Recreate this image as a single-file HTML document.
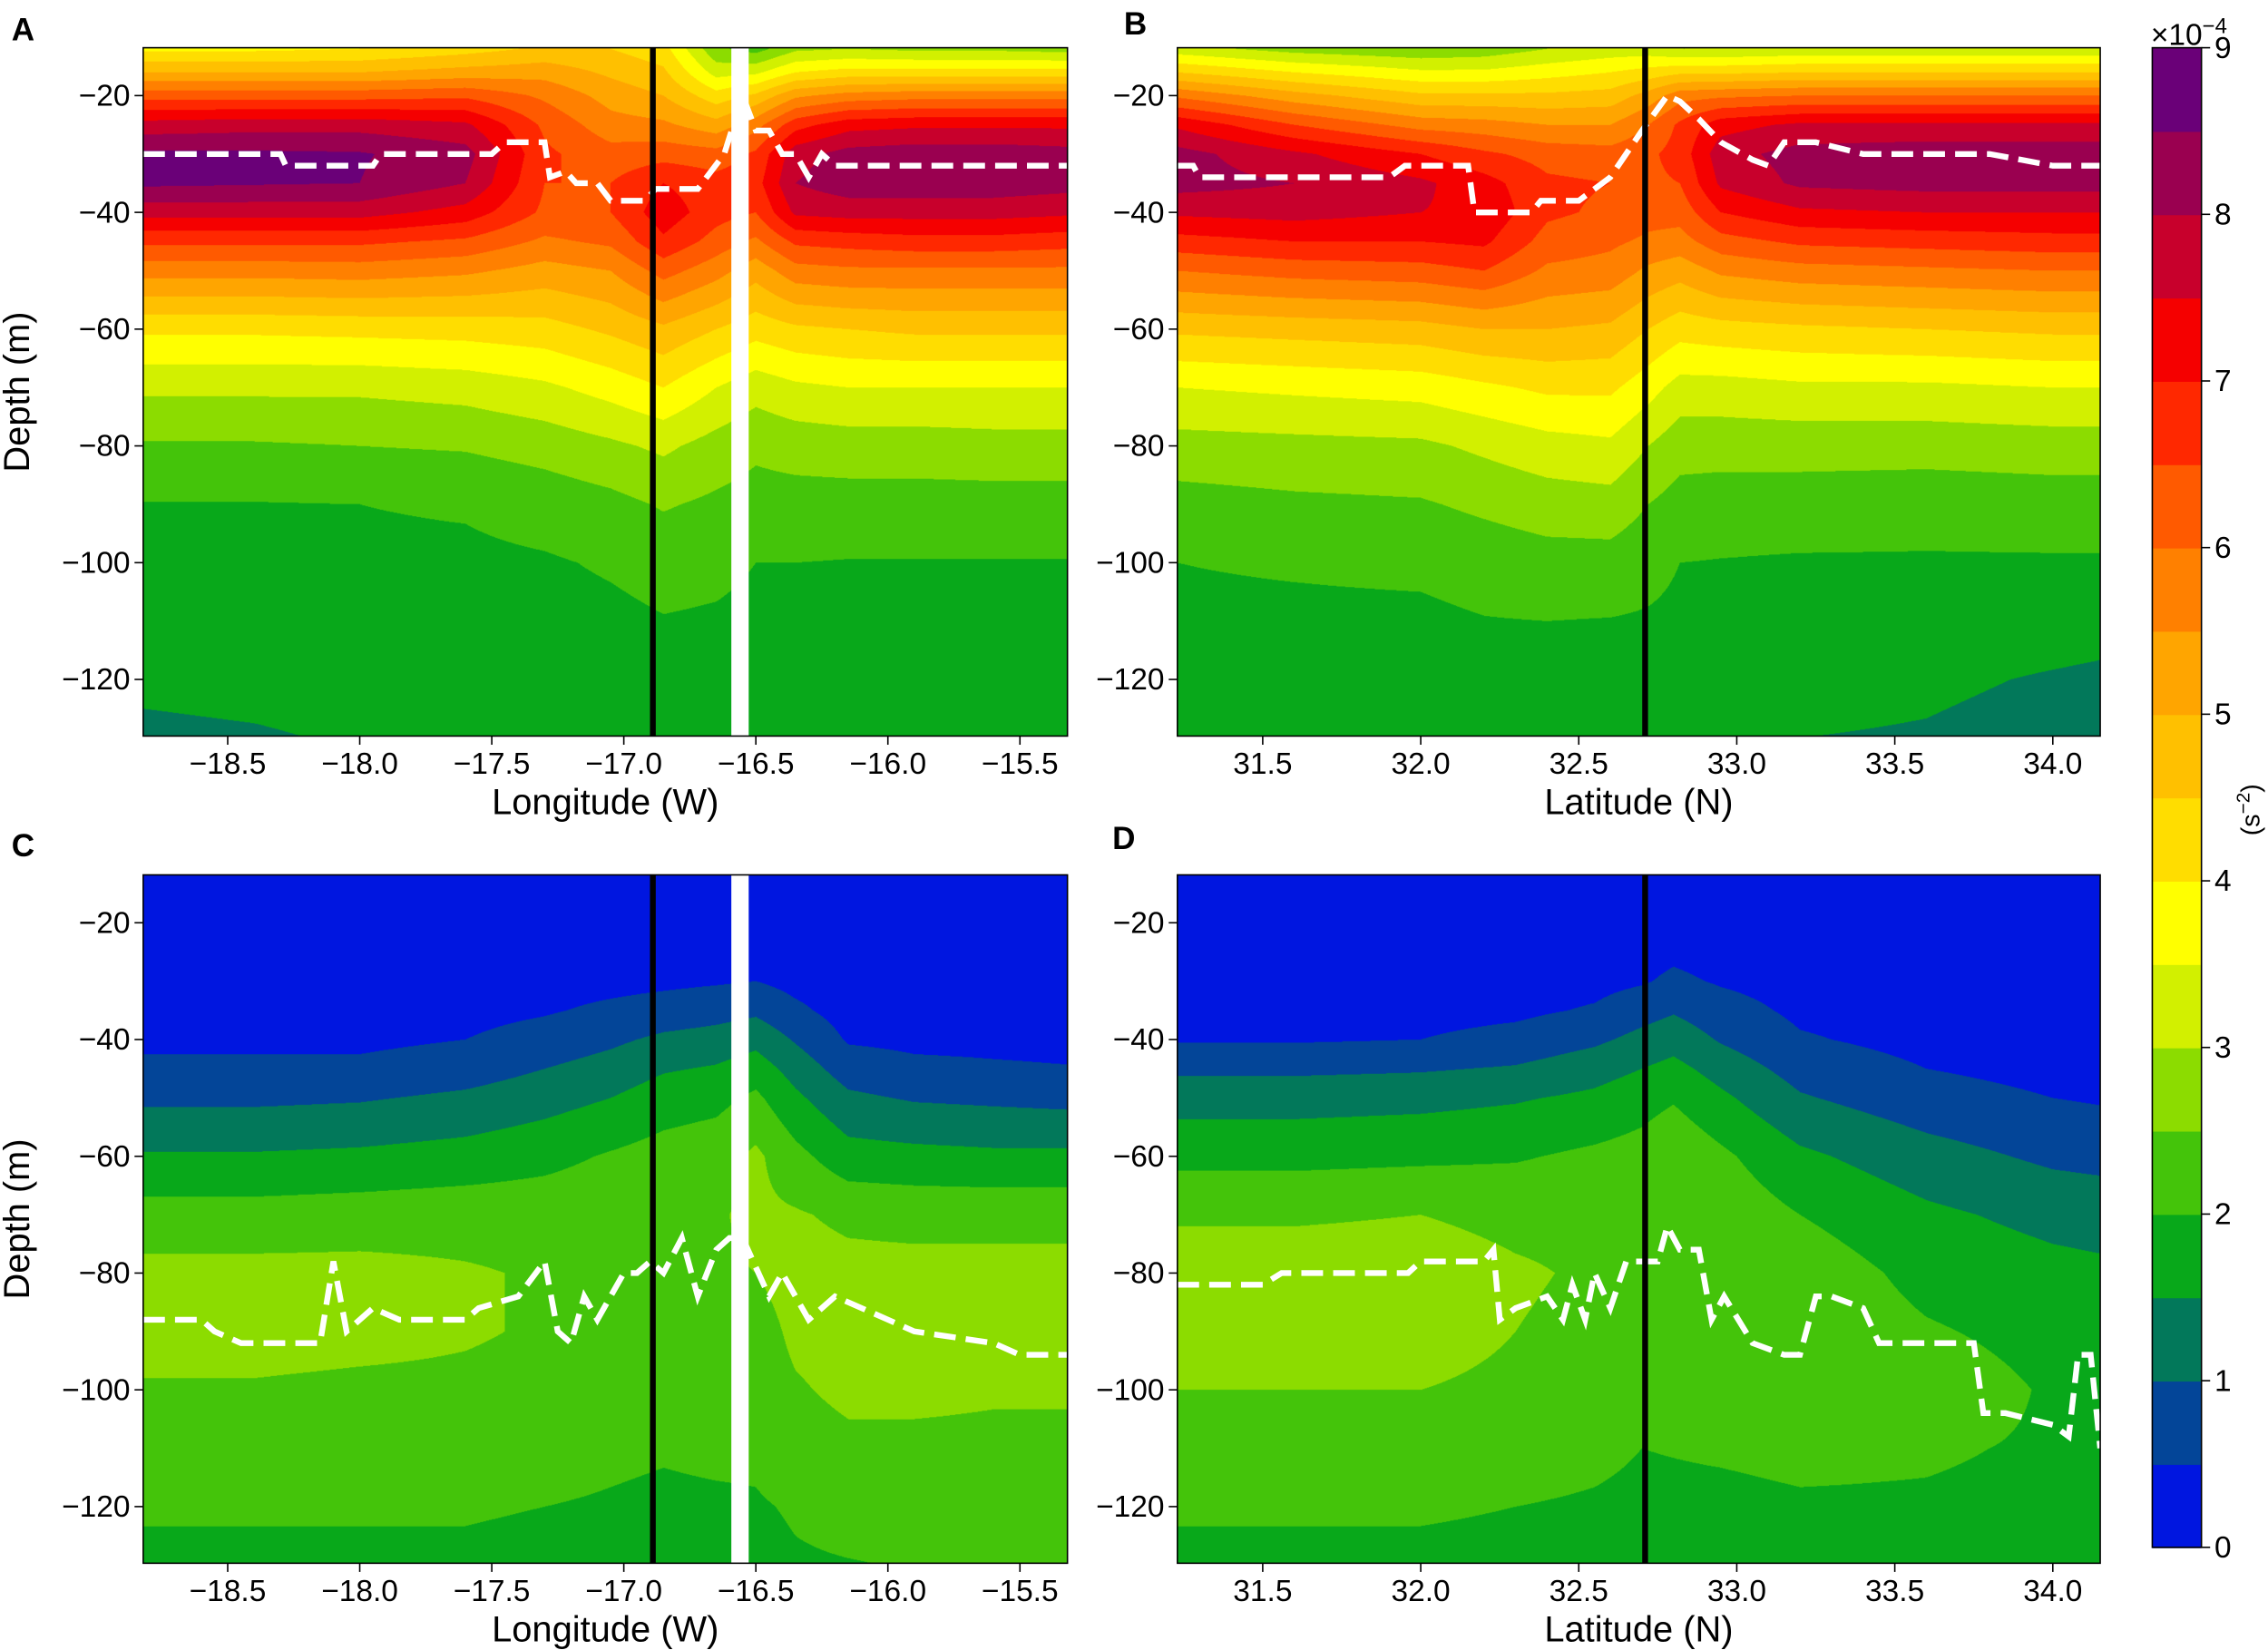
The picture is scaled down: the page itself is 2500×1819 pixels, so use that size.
<!DOCTYPE html>
<html><head><meta charset="utf-8">
<style>
html,body{margin:0;padding:0;background:#fff;}
#root{position:relative;width:1568px;height:1141px;transform:scale(1.59439,1.59421);transform-origin:0 0;font-family:"Liberation Sans",sans-serif;}
canvas{position:absolute;}
svg{position:absolute;left:0;top:0;}
</style></head>
<body>
<div id="root">
<canvas id="cA"></canvas>
<canvas id="cB"></canvas>
<canvas id="cC"></canvas>
<canvas id="cD"></canvas>
<svg id="svg" width="1568" height="1141" viewBox="0 0 1568 1141"></svg>
</div>
<script>
// ---- data ----
const levelColors = ["#0016e0","#034598","#02785a","#08a81a","#44c40a","#8cdc00","#d2f000","#ffff00","#ffdd00","#ffc000","#ffa500","#ff8000","#ff5a00","#ff2800","#f50000","#c8002c","#9a0050","#6a0078"];
const cbTicks = [0,1,2,3,4,5,6,7,8,9];
const depths = [-12,-16,-20,-25,-30,-35,-40,-45,-50,-60,-70,-80,-90,-100,-110,-120,-130];
const lonX = [-18.82,-18.4,-18.0,-17.6,-17.3,-17.05,-16.85,-16.65,-16.5,-16.35,-16.15,-15.9,-15.6,-15.32];
const latX = [31.23,31.6,32.0,32.2,32.4,32.6,32.72,32.82,32.95,33.2,33.6,34.0,34.15];
const latXD = [31.23,31.6,32.0,32.3,32.55,32.7,32.8,32.95,33.2,33.6,34.0,34.15];
const fieldA = [
[3.9,5.0,6.3,7.7,8.6,8.6,7.7,6.6,5.7,4.1,3.1,2.45,1.98,1.9,1.8,1.6,1.4],
[3.9,5.0,6.3,7.8,8.6,8.55,7.7,6.6,5.7,4.1,3.1,2.45,1.98,1.9,1.8,1.65,1.45],
[4.0,5.0,6.3,7.8,8.55,8.5,7.7,6.6,5.75,4.15,3.1,2.5,2.0,1.9,1.8,1.7,1.55],
[4.3,5.2,6.4,7.6,8.2,8.0,7.3,6.4,5.6,4.2,3.2,2.55,2.05,1.9,1.8,1.7,1.6],
[4.6,5.3,5.9,6.4,6.6,6.5,6.4,5.9,5.3,4.3,3.4,2.7,2.2,1.95,1.85,1.7,1.6],
[4.5,4.9,5.3,5.7,6.2,6.5,6.5,6.1,5.5,4.6,3.7,2.9,2.35,2.05,1.9,1.75,1.6],
[4.2,4.6,5.0,5.6,6.3,7.0,7.3,6.9,6.2,4.9,4.0,3.1,2.55,2.15,1.98,1.8,1.65],
[2.6,3.3,4.2,5.2,6.2,6.7,6.7,6.3,5.7,4.5,3.5,2.8,2.4,2.1,1.95,1.8,1.7],
[2.3,3.4,4.6,5.8,6.6,6.8,6.5,5.9,5.2,4.2,3.2,2.6,2.3,2.0,1.9,1.8,1.7],
[2.9,4.0,5.4,6.8,7.8,8.0,7.6,6.6,5.8,4.4,3.4,2.7,2.3,2.0,1.9,1.8,1.7],
[3.0,4.2,5.7,7.3,8.2,8.3,7.7,6.7,5.9,4.5,3.5,2.75,2.3,1.98,1.9,1.8,1.7],
[2.9,4.2,5.8,7.4,8.3,8.3,7.7,6.8,5.9,4.6,3.5,2.75,2.3,1.98,1.9,1.8,1.7],
[2.9,4.2,5.8,7.4,8.3,8.3,7.7,6.8,5.9,4.6,3.5,2.8,2.3,1.98,1.9,1.8,1.7],
[2.8,4.2,5.8,7.4,8.2,8.2,7.6,6.7,5.9,4.6,3.5,2.8,2.3,1.98,1.9,1.8,1.7]];
const fieldB = [
[3.2,4.5,5.9,7.4,8.2,8.2,7.6,6.8,6.0,4.6,3.5,2.8,2.3,2.0,1.9,1.8,1.7],
[2.8,4.0,5.2,6.5,7.6,8.0,7.7,7.0,6.2,4.7,3.6,2.85,2.4,2.05,1.9,1.8,1.7],
[2.6,3.6,4.6,5.8,7.0,7.6,7.5,7.0,6.3,4.8,3.7,2.9,2.45,2.1,1.9,1.8,1.7],
[2.7,3.6,4.6,5.7,6.6,7.2,7.4,7.1,6.5,5.0,3.9,3.1,2.6,2.2,1.98,1.8,1.7],
[3.0,3.8,4.6,5.5,6.3,6.6,6.6,6.3,5.9,5.0,4.1,3.3,2.75,2.3,2.0,1.85,1.7],
[3.2,4.0,4.7,5.5,6.2,6.5,6.4,6.1,5.8,4.9,4.1,3.4,2.8,2.3,1.98,1.8,1.7],
[3.2,4.2,5.2,6.0,6.4,6.4,6.2,5.9,5.4,4.5,3.7,3.0,2.5,2.15,1.95,1.8,1.7],
[3.0,4.4,5.8,6.6,6.7,6.5,6.2,5.8,5.2,4.2,3.3,2.7,2.3,2.0,1.9,1.8,1.7],
[3.0,4.4,5.9,7.3,7.8,7.6,7.0,6.3,5.6,4.3,3.3,2.7,2.25,1.98,1.88,1.78,1.65],
[3.1,4.5,6.0,7.6,8.2,8.1,7.4,6.6,5.8,4.4,3.4,2.7,2.25,1.95,1.85,1.7,1.5],
[3.1,4.5,6.0,7.6,8.3,8.2,7.5,6.7,5.9,4.5,3.4,2.7,2.2,1.95,1.8,1.6,1.45],
[3.1,4.5,6.0,7.6,8.3,8.2,7.5,6.8,6.0,4.6,3.5,2.75,2.25,1.95,1.75,1.45,1.3],
[3.1,4.5,6.0,7.6,8.3,8.2,7.5,6.8,6.0,4.6,3.5,2.75,2.25,1.95,1.7,1.4,1.3]];
const fieldC = [
[0.2,0.2,0.2,0.2,0.25,0.3,0.4,0.6,0.9,1.55,2.2,2.65,2.7,2.45,2.25,2.05,1.9],
[0.2,0.2,0.2,0.2,0.25,0.3,0.4,0.6,0.9,1.55,2.2,2.65,2.7,2.45,2.25,2.05,1.9],
[0.2,0.2,0.2,0.2,0.25,0.3,0.4,0.6,0.95,1.6,2.25,2.65,2.65,2.4,2.25,2.05,1.9],
[0.2,0.2,0.2,0.2,0.3,0.35,0.5,0.75,1.1,1.7,2.3,2.55,2.55,2.4,2.2,2.05,1.9],
[0.2,0.2,0.2,0.2,0.3,0.45,0.7,1.0,1.3,1.85,2.3,2.45,2.45,2.35,2.2,2.0,1.85],
[0.2,0.2,0.2,0.2,0.35,0.6,0.9,1.2,1.5,2.05,2.35,2.42,2.42,2.3,2.1,1.95,1.85],
[0.2,0.2,0.2,0.25,0.4,0.7,1.1,1.45,1.75,2.2,2.4,2.45,2.42,2.3,2.05,1.9,1.8],
[0.2,0.2,0.2,0.25,0.45,0.8,1.2,1.55,1.85,2.3,2.45,2.45,2.4,2.3,2.1,1.92,1.8],
[0.2,0.2,0.2,0.25,0.5,0.9,1.35,1.75,2.1,2.6,2.6,2.5,2.3,2.25,2.1,1.95,1.85],
[0.2,0.2,0.2,0.2,0.35,0.6,0.95,1.3,1.6,2.15,2.55,2.7,2.6,2.45,2.3,2.05,1.95],
[0.2,0.2,0.2,0.2,0.25,0.3,0.45,0.75,1.1,1.7,2.4,2.65,2.7,2.6,2.4,2.15,1.98],
[0.2,0.2,0.2,0.2,0.25,0.3,0.4,0.6,0.95,1.65,2.35,2.65,2.7,2.6,2.4,2.2,2.02],
[0.2,0.2,0.2,0.2,0.25,0.3,0.4,0.55,0.9,1.6,2.35,2.65,2.7,2.55,2.4,2.2,2.05],
[0.2,0.2,0.2,0.2,0.25,0.3,0.38,0.52,0.85,1.6,2.35,2.65,2.7,2.55,2.4,2.2,2.05]];
const fieldD = [
[0.2,0.2,0.2,0.2,0.25,0.3,0.45,0.9,1.3,1.85,2.45,2.7,2.7,2.5,2.25,2.05,1.9],
[0.2,0.2,0.2,0.2,0.25,0.3,0.45,0.9,1.3,1.85,2.45,2.7,2.7,2.5,2.25,2.05,1.9],
[0.2,0.2,0.2,0.2,0.25,0.35,0.5,0.95,1.35,1.9,2.5,2.7,2.7,2.5,2.25,2.05,1.9],
[0.2,0.2,0.2,0.2,0.3,0.4,0.65,1.05,1.45,1.95,2.4,2.55,2.5,2.4,2.2,2.0,1.88],
[0.2,0.2,0.2,0.25,0.35,0.55,0.9,1.3,1.6,2.1,2.4,2.45,2.4,2.3,2.1,1.95,1.85],
[0.2,0.2,0.25,0.3,0.45,0.8,1.15,1.5,1.8,2.2,2.45,2.45,2.35,2.2,2.0,1.9,1.8],
[0.2,0.2,0.3,0.4,0.6,0.95,1.3,1.65,1.95,2.4,2.48,2.45,2.35,2.2,2.02,1.9,1.8],
[0.2,0.2,0.2,0.3,0.45,0.7,0.95,1.3,1.6,2.1,2.35,2.35,2.3,2.2,2.05,1.9,1.8],
[0.2,0.2,0.2,0.2,0.3,0.4,0.55,0.8,1.05,1.6,2.0,2.3,2.35,2.25,2.1,1.95,1.85],
[0.2,0.2,0.2,0.2,0.25,0.3,0.35,0.5,0.7,1.2,1.6,1.85,2.05,2.25,2.05,1.95,1.85],
[0.2,0.2,0.2,0.2,0.2,0.25,0.3,0.35,0.5,0.9,1.35,1.65,1.85,1.95,1.95,1.9,1.85],
[0.2,0.2,0.2,0.2,0.2,0.25,0.3,0.35,0.45,0.85,1.3,1.6,1.85,1.98,1.95,1.9,1.85]];
const lineAx = [-18.82,-18.3,-18.28,-17.95,-17.92,-17.5,-17.45,-17.3,-17.28,-17.22,-17.18,-17.1,-17.05,-16.92,-16.88,-16.72,-16.62,-16.55,-16.5,-16.45,-16.4,-16.35,-16.3,-16.25,-16.2,-15.32];
const lineAy = [-30,-30,-32,-32,-30,-30,-28,-28,-34,-33,-35,-35,-38,-38,-36,-36,-30,-20,-26,-26,-30,-30,-34,-30,-32,-32];
const lineBx = [31.23,31.28,31.3,31.9,31.95,32.15,32.17,32.35,32.38,32.5,32.6,32.7,32.78,32.82,32.88,32.95,33.05,33.1,33.15,33.25,33.4,33.8,33.9,34.0,34.15];
const lineBy = [-32,-32,-34,-34,-32,-32,-40,-40,-38,-38,-34,-26,-20,-21,-24,-28,-31,-32,-28,-28,-30,-30,-31,-32,-32];
const lineCx = [-18.82,-18.6,-18.55,-18.45,-18.15,-18.1,-18.05,-17.95,-17.85,-17.6,-17.55,-17.4,-17.3,-17.25,-17.2,-17.15,-17.1,-17.0,-16.95,-16.9,-16.85,-16.78,-16.72,-16.65,-16.6,-16.55,-16.45,-16.4,-16.3,-16.2,-16.0,-15.9,-15.6,-15.5,-15.32];
const lineCy = [-88,-88,-90,-92,-92,-78,-90,-86,-88,-88,-86,-84,-78,-90,-92,-84,-88,-80,-80,-78,-80,-74,-84,-76,-74,-74,-84,-80,-88,-84,-88,-90,-92,-94,-94];
const lineDx = [31.23,31.5,31.56,31.96,32.0,32.2,32.23,32.25,32.3,32.4,32.45,32.48,32.52,32.55,32.6,32.65,32.75,32.78,32.82,32.88,32.92,32.96,33.05,33.15,33.2,33.25,33.3,33.4,33.45,33.75,33.78,33.85,34.0,34.05,34.08,34.12,34.15];
const lineDy = [-82,-82,-80,-80,-78,-78,-76,-88,-86,-84,-88,-82,-88,-80,-86,-78,-78,-72,-76,-76,-88,-84,-92,-94,-94,-84,-84,-86,-92,-92,-104,-104,-106,-108,-94,-94,-110];
const lonTicks = [-18.5,-18.0,-17.5,-17.0,-16.5,-16.0,-15.5];
const latTicks = [31.5,32.0,32.5,33.0,33.5,34.0];
const depthTicks = [-20,-40,-60,-80,-100,-120];
const blackLon = -16.89, whiteLon = -16.56, blackLat = 32.71;

// ---- layout ----
const panels = {
 A:{left:99,top:33,w:639,h:476,xmin:-18.82,xmax:-15.32,xs:lonX,field:fieldA},
 B:{left:814,top:33,w:638,h:476,xmin:31.23,xmax:34.15,xs:latX,field:fieldB},
 C:{left:99,top:605,w:639,h:476,xmin:-18.82,xmax:-15.32,xs:lonX,field:fieldC},
 D:{left:814,top:605,w:638,h:476,xmin:31.23,xmax:34.15,xs:latXD,field:fieldD}};
const dTop=-11.8, dBot=-129.7;
function xS(p,v){return p.left+(v-p.xmin)/(p.xmax-p.xmin)*p.w;}
function yS(p,d){return p.top+(dTop-d)/(dTop-dBot)*p.h;}
function hex(c){return [parseInt(c.substr(1,2),16),parseInt(c.substr(3,2),16),parseInt(c.substr(5,2),16)];}
const rgb = levelColors.map(hex);
function idx(arr,v){let i=0;while(i<arr.length-2&&v>arr[i+1])i++;return i;}
function idxDesc(arr,v){let i=0;while(i<arr.length-2&&v<arr[i+1])i++;return i;}

function drawField(id,p){
 const cv=document.getElementById(id);
 const S=2;
 cv.style.left=p.left+'px';cv.style.top=p.top+'px';cv.style.width=p.w+'px';cv.style.height=p.h+'px';
 cv.width=p.w*S;cv.height=p.h*S;
 const ctx=cv.getContext('2d');
 const img=ctx.createImageData(cv.width,cv.height);
 for(let py=0;py<cv.height;py++){
  const d=dTop-(py+0.5)/cv.height*(dTop-dBot);
  const j=idxDesc(depths,d);
  let ty=(depths[j]-d)/(depths[j]-depths[j+1]);ty=Math.max(0,Math.min(1,ty));
  for(let px=0;px<cv.width;px++){
   const x=p.xmin+(px+0.5)/cv.width*(p.xmax-p.xmin);
   const i=idx(p.xs,x);
   let tx=(x-p.xs[i])/(p.xs[i+1]-p.xs[i]);tx=Math.max(0,Math.min(1,tx));
   const f=p.field;
   const v=(f[i][j]*(1-tx)+f[i+1][j]*tx)*(1-ty)+(f[i][j+1]*(1-tx)+f[i+1][j+1]*tx)*ty;
   let L=Math.floor(v/0.5);L=Math.max(0,Math.min(17,L));
   const c=rgb[L];const k=(py*cv.width+px)*4;
   img.data[k]=c[0];img.data[k+1]=c[1];img.data[k+2]=c[2];img.data[k+3]=255;
  }
 }
 ctx.putImageData(img,0,0);
}
drawField('cA',panels.A);drawField('cB',panels.B);drawField('cC',panels.C);drawField('cD',panels.D);

const svg=document.getElementById('svg');
const NS='http://www.w3.org/2000/svg';
function mk(tag,attrs,parent){const e=document.createElementNS(NS,tag);for(const k in attrs)e.setAttribute(k,attrs[k]);(parent||svg).appendChild(e);return e;}
function fmt1(v){return (v<0?'\u2212':'')+Math.abs(v).toFixed(1);}
function fmt0(v){return (v<0?'\u2212':'')+Math.abs(v).toFixed(0);}

function axes(key,p,ticks,xlabel,showBlack,showWhite,lx,ly){
 const g=mk('g',{});
 
 
 let px,py;
 if(key==='A'){px=lineAx;py=lineAy;}else if(key==='B'){px=lineBx;py=lineBy;}else if(key==='C'){px=lineCx;py=lineCy;}else{px=lineDx;py=lineDy;}
 if(showWhite){
  const wb=mk('rect',{x:xS(p,whiteLon)-6,y:p.top,width:12,height:p.h,fill:'#fff'},g);
  
  
 }
 const pts=px.map((v,i)=>xS(p,v).toFixed(1)+','+yS(p,py[i]).toFixed(1)).join(' ');
 const ml=mk('polyline',{points:pts,fill:'none',stroke:'#fff','stroke-width':4,'stroke-dasharray':'15 7'},g);
 
 
 const bx=xS(p,showBlack);
 const bl=mk('line',{x1:bx,y1:p.top,x2:bx,y2:p.top+p.h,stroke:'#000','stroke-width':4},g);
 
 
 const fr=mk('rect',{x:p.left,y:p.top,width:p.w,height:p.h,fill:'none',stroke:'#000','stroke-width':1},g);
 
 
 ticks.forEach(t=>{
  const x=xS(p,t);
  const tl=mk('line',{x1:x,y1:p.top+p.h,x2:x,y2:p.top+p.h+6,stroke:'#000','stroke-width':1},g);
  
  
  const tx=mk('text',{x:x,y:p.top+p.h+26,'font-size':21,'text-anchor':'middle',fill:'#000'},g);
  tx.textContent=fmt1(t);
  
  
 });
 depthTicks.forEach(t=>{
  const y=yS(p,t);
  const tl=mk('line',{x1:p.left-6,y1:y,x2:p.left,y2:y,stroke:'#000','stroke-width':1},g);
  
  
  const tx=mk('text',{x:p.left-9,y:y+7,'font-size':21,'text-anchor':'end',fill:'#000'},g);
  tx.textContent=fmt0(t);
  
  
 });
 const xl=mk('text',{x:p.left+p.w/2,y:p.top+p.h+54,'font-size':25,'text-anchor':'middle',fill:'#000'},g);
 xl.textContent=xlabel;
 
 
 if(key==='A'||key==='C'){
  const yl=mk('text',{x:0,y:0,'font-size':25,'text-anchor':'middle',fill:'#000',transform:'translate(20,'+(p.top+p.h/2)+') rotate(-90)'},g);
  yl.textContent='Depth (m)';
  
  
 }
 const pl=mk('text',{x:lx,y:ly,'font-size':22,'font-weight':'bold',fill:'#000'},g);
 pl.textContent=key;
 
 
}
axes('A',panels.A,lonTicks,'Longitude (W)',blackLon,true,8,28);
axes('B',panels.B,latTicks,'Latitude (N)',blackLat,false,777,24);
axes('C',panels.C,lonTicks,'Longitude (W)',blackLon,true,8,592);
axes('D',panels.D,latTicks,'Latitude (N)',blackLat,false,769,587);

// colorbar
const cb={left:1488,top:33,w:34,h:1037,vmin:0,vmax:9};
function cbY(v){return cb.top+(cb.vmax-v)/(cb.vmax-cb.vmin)*cb.h;}
const cg=mk('g',{});


levelColors.forEach((c,i)=>{
 const r=mk('rect',{x:cb.left,y:cbY((i+1)*0.5),width:cb.w,height:cbY(i*0.5)-cbY((i+1)*0.5)+0.6,fill:c},cg);
 
 
});
const cf=mk('rect',{x:cb.left,y:cb.top,width:cb.w,height:cb.h,fill:'none',stroke:'#000','stroke-width':1},cg);


cbTicks.forEach(t=>{
 const y=cbY(t);
 const tl=mk('line',{x1:cb.left+cb.w,y1:y,x2:cb.left+cb.w+6,y2:y,stroke:'#000'},cg);
 
 
 const tx=mk('text',{x:cb.left+cb.w+9,y:y+7,'font-size':21,fill:'#000'},cg);
 tx.textContent=String(t);
 
 
});
const ex=mk('text',{x:1487,y:31,'font-size':21,fill:'#000'},cg);
ex.innerHTML='\u00d710<tspan dy="-8" font-size="15">\u22124</tspan>';


const ut=mk('text',{x:0,y:0,'font-size':18,'text-anchor':'middle',fill:'#000',transform:'translate(1562,560) rotate(-90)'},cg);
ut.innerHTML='(s<tspan dy="-7" font-size="13">\u22122</tspan><tspan dy="7">)</tspan>';


</script>
</body></html>
